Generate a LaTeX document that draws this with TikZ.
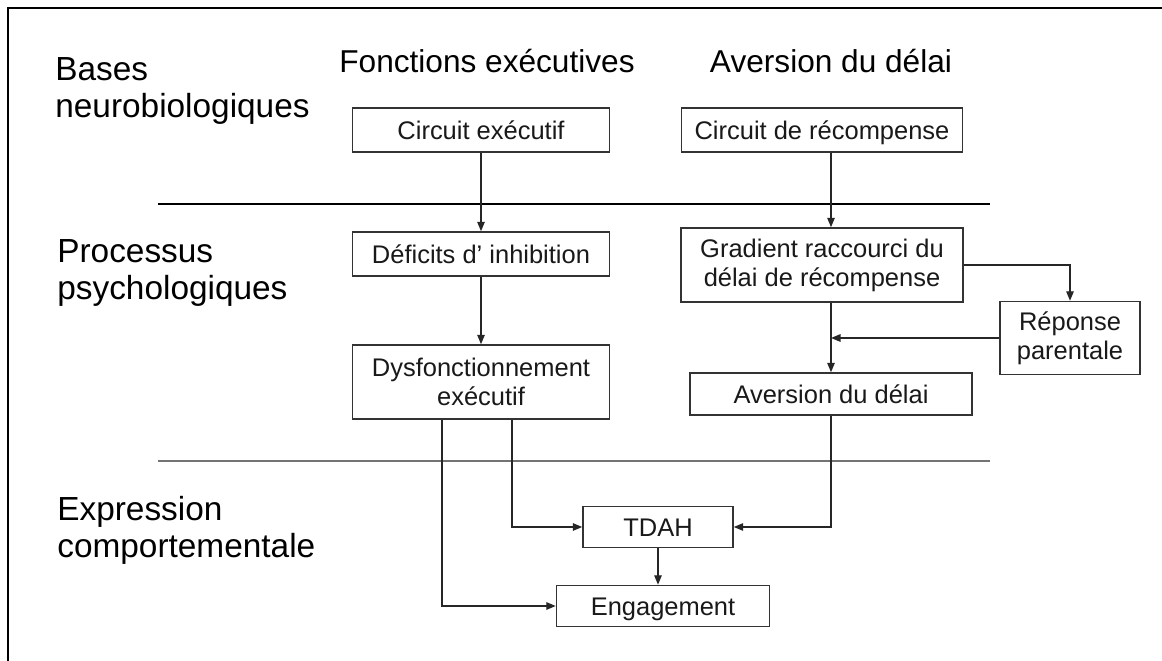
\documentclass[tikz,border=0pt]{standalone}
\usepackage{fontspec}
\setmainfont{Liberation Sans}
\usetikzlibrary{arrows.meta,calc}

\begin{document}
\begin{tikzpicture}[x=0.02cm, y=-0.02cm,
    box/.style={draw=black!80, line width=0.85pt, inner sep=0pt, align=center,
                text=black!90, font=\fontsize{14.5}{16.5}\selectfont},
    flat/.style={box, text height=10.5pt, text depth=0pt},
    level/.style={anchor=base west, align=left, inner sep=0pt, text=black,
                  font=\fontsize{19}{21.5}\selectfont},
    column/.style={anchor=base, inner sep=0pt, text=black, font=\fontsize{18}{21.5}\selectfont},
    arr/.style={draw=black!85, line width=0.8pt, -{Triangle[length=1.9mm, width=1.5mm]}}]
  \useasboundingbox (0,0) rectangle (1162,661);
  \draw[line width=1.4pt] (8,661) -- (8,8) -- (1162,8);

  \draw[line width=0.8pt] (158,204) -- (990,204);
  \draw[line width=1.7pt, black!55] (158,461) -- (990,461);

  \node[level] (bases) at (55,118) {Bases\\neurobiologiques};
  \node[level] (proc) at (57,300) {Processus\\psychologiques};
  \node[level] (expr) at (57,558) {Expression\\comportementale};
  \node[column] (fe) at (487,73) {Fonctions exécutives};
  \node[column] (ad) at (831,73) {Aversion du délai};

  \node[flat, minimum width=5.14cm, minimum height=0.88cm] (exe) at (481,130) {Circuit exécutif};
  \node[flat, minimum width=5.62cm, minimum height=0.88cm] (rec) at (822,130) {Circuit de récompense};
  \node[flat, minimum width=5.14cm, minimum height=0.88cm] (def) at (481,254) {Déficits d’ inhibition};
  \node[box, minimum width=5.14cm, minimum height=1.48cm] (dys) at (481,382) {Dysfonctionnement\\exécutif};
  \node[box, minimum width=5.64cm, minimum height=1.48cm] (grad) at (822,265) {Gradient raccourci du\\délai de récompense};
  \node[box, minimum width=2.80cm, minimum height=1.46cm] (rep) at (1070,338) {Réponse\\parentale};
  \node[flat, minimum width=5.64cm, minimum height=0.84cm] (ave) at (831,394) {Aversion du délai};
  \node[flat, minimum width=3.00cm, minimum height=0.82cm] (tdah) at (658,527) {TDAH};
  \node[flat, minimum width=4.26cm, minimum height=0.82cm] (eng) at (663,606) {Engagement};
  \coordinate (join) at (ave.north |- rep.west);

  \draw[arr] (exe) -- (def);
  \draw[arr] (def) -- (dys);
  \draw[arr] (rec.south -| ave.north) -- (grad.north -| ave.north);
  \draw[arr] (grad.east) -| (rep.north);
  \draw[arr] (grad.south -| ave.north) -- (ave.north);
  \draw[arr] (rep.west) -- (join);
  \draw[arr] ($(dys.south)+(31,0)$) |- (tdah.west);
  \draw[arr] ($(dys.south)+(-39,0)$) |- (eng.west);
  \draw[arr] (ave.south) |- (tdah.east);
  \draw[arr] (tdah.south) -- (tdah.south |- eng.north);
\end{tikzpicture}
\end{document}
